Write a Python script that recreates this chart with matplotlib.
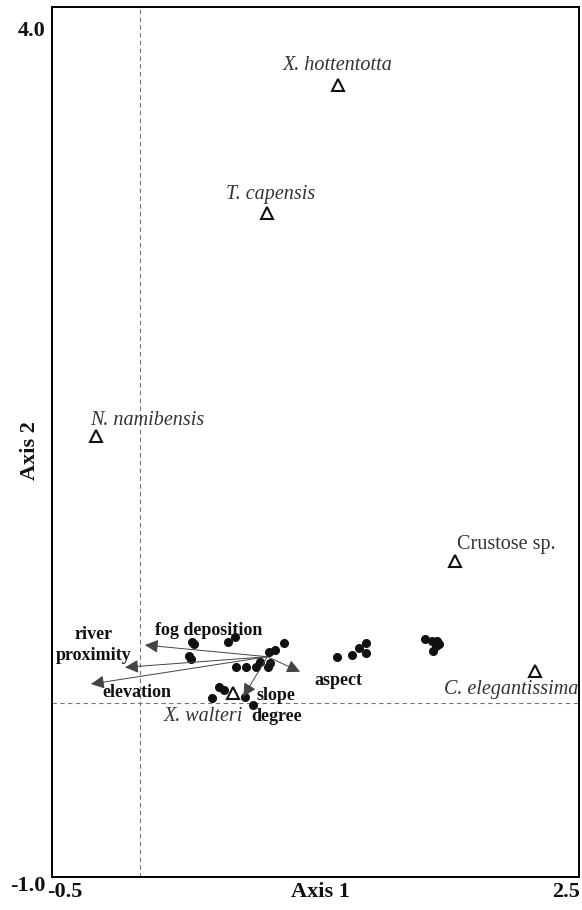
import matplotlib.pyplot as plt

plt.rcParams['font.family'] = ['Liberation Serif', 'DejaVu Serif']

# species scores (open triangles)
species = ['X. hottentotta', 'T. capensis', 'N. namibensis', 'Crustose sp.',
           'C. elegantissima', 'X. walteri']
species_x = [1.128, 0.724, -0.250, 1.794, 2.249, 0.530]
species_y = [3.552, 2.816, 1.534, 0.816, 0.184, 0.057]
species_italic = [True, True, True, False, True, True]

# site scores (filled dots)
site_x = [0.295, 0.308, 0.282, 0.291, 0.504, 0.542, 0.821, 0.737, 0.769, 0.547,
          0.604, 0.661, 0.684, 0.731, 0.741, 0.452, 0.481, 0.409, 0.599, 0.646,
          1.121, 1.209, 1.249, 1.286, 1.286, 1.623, 1.661, 1.693, 1.703, 1.671,
          1.686]
site_y = [0.352, 0.337, 0.272, 0.253, 0.352, 0.381, 0.343, 0.291, 0.305, 0.209,
          0.209, 0.209, 0.234, 0.209, 0.228, 0.094, 0.075, 0.030, 0.036, -0.011,
          0.266, 0.276, 0.314, 0.343, 0.286, 0.368, 0.358, 0.358, 0.337, 0.299,
          0.328]

# environmental vectors
env = ['fog deposition', 'river\nproximity', 'elevation', 'slope\ndegree', 'aspect']
env_origin = (0.726, 0.266)
env_x = [0.029, -0.084, -0.278, 0.589, 0.912]
env_y = [0.333, 0.205, 0.109, 0.036, 0.180]

# label offsets in pixels
species_off = [(0, 19), (4, 19), (51, 16), (51, 17), (43, -19), (-30, -23)]
species_ha = ['center', 'center', 'center', 'center', 'right', 'center']
env_off = [(64, 15), (-31, 22), (46, -8), (33, -9), (38, -9)]

fig = plt.figure(figsize=(5.82, 9.10), dpi=100)
ax = fig.add_axes([52 / 582, 33 / 910, 527 / 582, 870 / 910])
ax.set_xlim(-0.5, 2.5)
ax.set_ylim(-1.0, 4.0)

# dashed zero lines
ax.axvline(0, color='#777777', lw=0.8, dashes=(4, 3), zorder=1)
ax.axhline(0, color='#777777', lw=0.8, dashes=(4, 3), zorder=1)

ax.plot(site_x, site_y, 'o', color='#111111', ms=5.5, zorder=3)

for x, y in zip(env_x, env_y):
    ax.annotate('', xy=(x, y), xytext=env_origin,
                arrowprops=dict(arrowstyle='-|>', color='#444444', lw=0.7,
                                mutation_scale=20, shrinkA=0, shrinkB=0,
                                facecolor='#111111'),
                zorder=4)
for name, x, y, off in zip(env, env_x, env_y, env_off):
    ax.annotate(name, xy=(x, y), xytext=off, textcoords='offset pixels',
                ha='center', va='center', fontsize=13, fontweight='bold',
                linespacing=1.3, color='#111111', zorder=5)

ax.plot(species_x, species_y, '^', mfc='white', mec='#111111', mew=1.5, ms=8,
        zorder=6)
for name, x, y, off, ha, it in zip(species, species_x, species_y, species_off,
                                   species_ha, species_italic):
    ax.annotate(name, xy=(x, y), xytext=off, textcoords='offset pixels',
                ha=ha, va='center', fontsize=14.5,
                style='italic' if it else 'normal', color='#333333', zorder=7)

ax.set_xticks([])
ax.set_yticks([])
for s in ax.spines.values():
    s.set_linewidth(1.4)

# end labels sit slightly inside the corners, as in the original
lab = dict(fontsize=16, fontweight='bold', color='#111111')
ax.text(0.025, -0.006, '-0.5', transform=ax.transAxes, ha='center', va='top', **lab)
ax.text(0.975, -0.006, '2.5', transform=ax.transAxes, ha='center', va='top', **lab)
ax.text(0.51, -0.006, 'Axis 1', transform=ax.transAxes, ha='center', va='top', **lab)
ax.text(-0.013, 0.9725, '4.0', transform=ax.transAxes, ha='right', va='center', **lab)
ax.text(-0.012, -0.010, '-1.0', transform=ax.transAxes, ha='right', va='center', **lab)
ax.text(-0.042, 0.49, 'Axis 2', transform=ax.transAxes, ha='center', va='center',
        rotation=90, **lab)

fig.savefig('out.png', dpi=100)
